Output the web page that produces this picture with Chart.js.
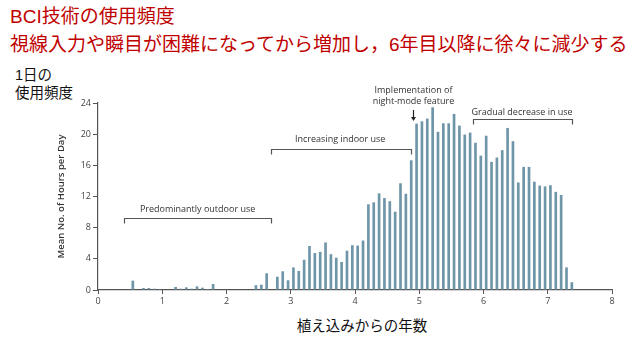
<!DOCTYPE html>
<html lang="ja">
<head>
    <meta charset="UTF-8">
    <title>BCI技術の使用頻度</title>
    <script src="https://cdn.jsdelivr.net/npm/chart.js"></script>
    <style>
        body {
            margin: 0;
            width: 640px;
            height: 340px;
            background: #fff;
            position: relative;
            overflow: hidden;
            font-family: "Liberation Sans", "Noto Sans CJK JP", sans-serif;
        }
        #myChart {
            position: absolute;
            left: 0;
            top: 0;
        }
        .title {
            position: absolute;
            left: 10px;
            color: #c00000;
            font-size: 19px;
            line-height: 22px;
            white-space: nowrap;
        }
        .ylab {
            position: absolute;
            left: 15px;
            top: 66px;
            font-size: 14.5px;
            line-height: 18px;
            color: #111;
        }
        .xlab {
            position: absolute;
            left: 0;
            width: 724px;
            top: 314px;
            text-align: center;
            font-size: 14.5px;
            color: #111;
        }
    </style>
</head>
<body>
    <div class="title" style="top:6px">BCI技術の使用頻度</div>
    <div class="title" style="top:34px">視線入力や瞬目が困難になってから増加し，6年目以降に徐々に減少する</div>
    <div class="ylab">1日の<br>使用頻度</div>
    <div class="xlab">植え込みからの年数</div>

    <canvas id="myChart" width="640" height="340"></canvas>

    <script>
        // meses desde el implante y horas de uso por dia
        const months = [6, 8, 9, 10, 11, 14, 15, 16, 17, 18, 19, 20, 21,
            29, 30, 31, 33, 34, 35, 36, 37, 38, 39, 40, 41, 42, 43, 44, 45, 46, 47, 48, 49,
            50, 51, 52, 53, 54, 55, 56, 57, 58, 59, 60, 61, 62, 63, 64, 65, 66, 67, 68, 69,
            70, 71, 72, 73, 74, 75, 76, 77, 78, 79, 80, 81, 82, 83, 84, 85, 86, 87, 88];
        const hours = [1.2, 0.26, 0.26, 0.17, 0.1, 0.39, 0.17, 0.34, 0.17, 0.47, 0.3, 0.13, 0.77,
            0.62, 0.68, 2.15, 1.7, 2.4, 1.25, 2.9, 2.45, 3.88, 5.65, 4.75, 4.9, 6.1, 4.6, 4.15, 3.6, 5.05, 5.75, 5.7, 6.35,
            11.0, 11.25, 12.4, 11.8, 11.4, 10.05, 13.7, 12.35, 16.65, 21.35, 21.65, 22.0, 23.45, 20.3, 21.4, 21.4, 22.6, 21.1, 19.95, 20.2,
            18.9, 17.25, 19.8, 16.45, 17.0, 17.95, 20.8, 19.1, 13.8, 15.8, 15.8, 13.9, 13.4, 13.3, 13.45, 12.6, 12.2, 2.9, 1.0];
        const yearTicks = [0, 1, 2, 3, 4, 5, 6, 7, 8];
        const hourTicks = [0, 4, 8, 12, 16, 20, 24];

        // anotaciones: corchetes (x1, x2, y) y textos
        const brackets = [
            { text: 'Predominantly outdoor use', x1: 0.41, x2: 2.69, y: 9.2, tx: 1.55, ty: 10.35 },
            { text: 'Increasing indoor use', x1: 2.69, x2: 4.87, y: 18.1, tx: 3.77, ty: 19.35 },
            { text: 'Gradual decrease in use', x1: 5.84, x2: 7.37, y: 21.9, tx: 6.6, ty: 22.75 }
        ];
        const arrowNote = { lines: ['Implementation of', 'night-mode feature'], x: 4.9, ty: [25.55, 24.15], y1: 23.1, y2: 21.7 };

        const grey = '#555';

        const annotations = {
            id: 'annotations',
            afterDraw(chart) {
                const c = chart.ctx;
                const xs = chart.scales.x, ys = chart.scales.y;
                c.save();
                c.strokeStyle = grey;
                c.fillStyle = '#333';
                c.lineWidth = 1.2;
                c.font = '9px "Open Sans"';
                c.textAlign = 'center';
                c.textBaseline = 'middle';
                brackets.forEach(b => {
                    const x1 = Math.round(xs.getPixelForValue(b.x1)) + 0.5;
                    const x2 = Math.round(xs.getPixelForValue(b.x2)) + 0.5;
                    const y = Math.round(ys.getPixelForValue(b.y)) + 0.5;
                    c.beginPath();
                    c.moveTo(x1, y + 5);
                    c.lineTo(x1, y);
                    c.lineTo(x2, y);
                    c.lineTo(x2, y + 5);
                    c.stroke();
                    c.fillText(b.text, xs.getPixelForValue(b.tx), ys.getPixelForValue(b.ty));
                });
                const ax = Math.round(xs.getPixelForValue(arrowNote.x)) + 0.5;
                arrowNote.lines.forEach((t, i) => {
                    c.fillText(t, ax, ys.getPixelForValue(arrowNote.ty[i]));
                });
                const ay1 = ys.getPixelForValue(arrowNote.y1);
                const ay2 = ys.getPixelForValue(arrowNote.y2);
                c.strokeStyle = '#222';
                c.beginPath();
                c.moveTo(ax, ay1);
                c.lineTo(ax, ay2 - 3);
                c.stroke();
                c.fillStyle = '#222';
                c.beginPath();
                c.moveTo(ax - 2.5, ay2 - 4);
                c.lineTo(ax + 2.5, ay2 - 4);
                c.lineTo(ax, ay2);
                c.closePath();
                c.fill();
                c.restore();
            }
        };

        const ctx = document.getElementById('myChart').getContext('2d');
        const chart = new Chart(ctx, {
            type: 'bar',
            data: {
                datasets: [{
                    data: months.map((m, i) => ({ x: (m + 0.5) / 12, y: hours[i] })),
                    backgroundColor: '#6f96a8',
                    borderWidth: 0,
                    barPercentage: 0.5,
                    categoryPercentage: 1
                }]
            },
            options: {
                responsive: false,
                animation: false,
                layout: { padding: { left: 56, top: 103, right: 28, bottom: 0 } },
                plugins: { legend: { display: false }, tooltip: { enabled: false } },
                scales: {
                    x: {
                        type: 'linear',
                        min: 0,
                        max: 8,
                        offset: false,
                        afterBuildTicks: s => { s.ticks = yearTicks.map(v => ({ value: v })); },
                        afterFit: s => { s.height = 50; },
                        grid: { display: true, drawOnChartArea: false, drawTicks: true, tickLength: 4, tickColor: grey, offset: false },
                        border: { display: true, color: grey, width: 1.2 },
                        ticks: { color: '#444', font: { family: 'Open Sans', size: 9 }, padding: 2, maxRotation: 0 }
                    },
                    y: {
                        min: 0,
                        max: 24,
                        afterBuildTicks: s => { s.ticks = hourTicks.map(v => ({ value: v })); },
                        afterFit: s => { s.width = 42; },
                        grid: { display: true, drawOnChartArea: false, drawTicks: true, tickLength: 5, tickColor: grey },
                        border: { display: true, color: grey, width: 1.2 },
                        ticks: { color: '#444', font: { family: 'Open Sans', size: 9 }, padding: 2 },
                        title: {
                            display: true,
                            text: 'Mean No. of Hours per Day',
                            color: '#333',
                            font: { family: 'Open Sans', size: 9.5, weight: '600' },
                            padding: 0
                        }
                    }
                }
            },
            plugins: [annotations]
        });
    </script>
</body>
</html>
